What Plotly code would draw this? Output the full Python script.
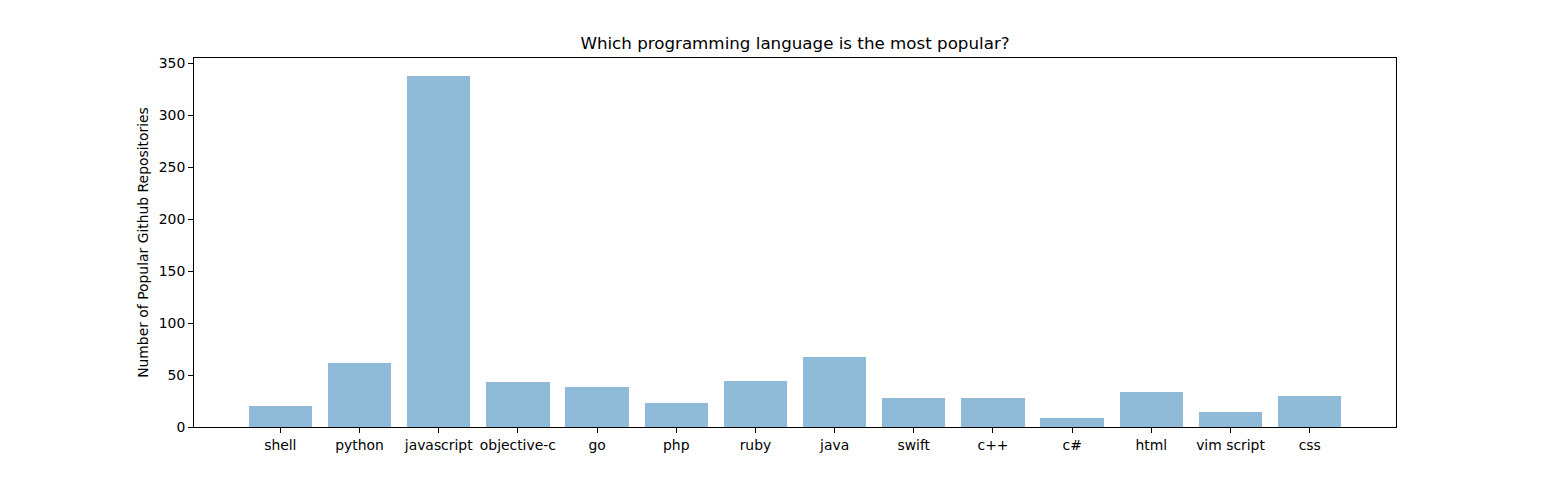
import plotly.graph_objects as go

languages = ["shell", "python", "javascript", "objective-c", "go", "php", "ruby",
             "java", "swift", "c++", "c#", "html", "vim script", "css"]
repo_counts = [20, 62, 338, 43, 38, 23, 44, 67, 28, 28, 9, 34, 14, 30]

positions = list(range(len(languages)))
ymax = max(repo_counts) * 1.05
span = (len(languages) - 1) + 0.8
xmin = -0.4 - 0.05 * span
xmax = (len(languages) - 1) + 0.4 + 0.05 * span

fig = go.Figure(go.Bar(
    x=positions, y=repo_counts, width=0.8,
    marker=dict(color="rgba(31,119,180,0.5)", line=dict(width=0)),
))

# page body has an 8px margin; figure is sized so the plot area lands in place
W, H = 1535, 464
L, T = 186, 50
R = W - (1396 - 8)
B = H - (427 - 8)

font = "DejaVu Sans, sans-serif"
fig.update_layout(
    width=W, height=H,
    margin=dict(l=L, r=R, t=T, b=B),
    paper_bgcolor="white", plot_bgcolor="white",
    font=dict(family=font, size=13.9, color="black"),
    title=dict(text="Which programming language is the most popular?",
               x=((194 + 1396) / 2 - 8) / W, xanchor="center",
               y=1 - (43 - 8) / H, yanchor="middle",
               font=dict(size=16.7, family=font, color="black")),
    showlegend=False,
    bargap=0,
)
fig.update_xaxes(
    range=[xmin, xmax], tickmode="array", tickvals=positions, ticktext=languages,
    showgrid=False, zeroline=False, showline=True, linecolor="black", linewidth=1,
    mirror=True, ticks="outside", ticklen=5, tickcolor="black",
    tickfont=dict(size=13.9, family=font, color="black"),
)
fig.update_yaxes(
    range=[0, ymax], tickmode="array", tickvals=[0, 50, 100, 150, 200, 250, 300, 350],
    showgrid=False, zeroline=False, showline=True, linecolor="black", linewidth=1,
    mirror=True, ticks="outside", ticklen=5, tickcolor="black",
    tickfont=dict(size=13.9, family=font, color="black"),
    title=dict(text="Number of Popular Github Repositories",
               font=dict(size=13.9, family=font, color="black"), standoff=6),
)

fig.write_html("out.html")
